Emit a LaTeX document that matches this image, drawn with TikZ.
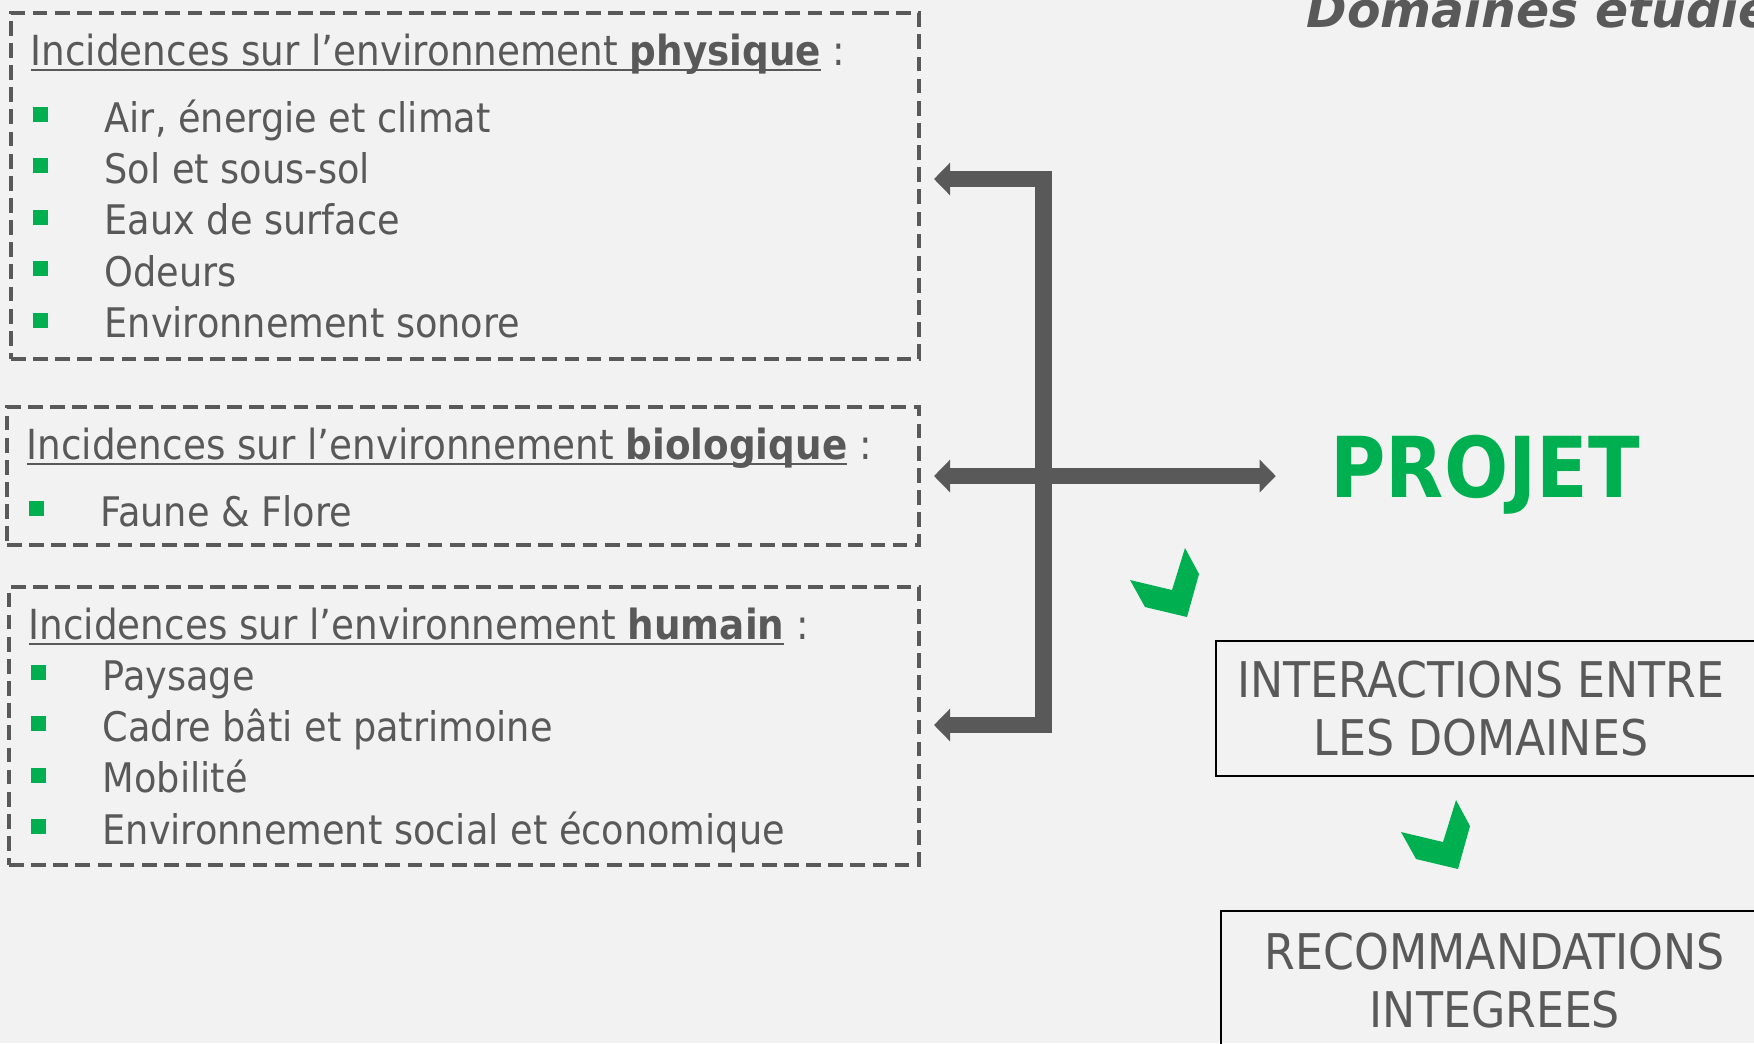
\documentclass[tikz,border=0pt]{standalone}
\usepackage{fontspec}
\setmainfont{DejaVu Sans Condensed}
\newfontfamily\headfont{DejaVu Sans}
\usetikzlibrary{arrows.meta,positioning}

\definecolor{textgray}{HTML}{595959}
\definecolor{bggray}{HTML}{F2F2F2}
\definecolor{okgreen}{HTML}{00B050}

% underline drawn at a fixed depth, through the descenders
\newcommand{\undl}[1]{\leavevmode\setbox0\hbox{#1}\rlap{\color{textgray}\rule[-1.8pt]{\wd0}{0.8pt}}\box0\relax}

\tikzset{
  domainbox/.style={draw=textgray, line width=1.1pt, dash pattern=on 4.2pt off 2.1pt, inner sep=0pt, outer sep=0pt},
  headtxt/.style={anchor=base west, inner sep=0pt, text=textgray, font=\fontsize{11.8}{14}\selectfont},
  itemtxt/.style={anchor=base west, inner sep=0pt, text=textgray, font=\fontsize{11.6}{14}\selectfont},
  bullet/.style={fill=okgreen, minimum size=1.5mm, inner sep=0pt},
  stepbox/.style={draw=black, line width=0.5pt, inner sep=0pt, outer sep=0pt},
  steptxt/.style={align=center, inner sep=0pt, text=textgray, font=\fontsize{14}{16.5}\selectfont},
  link/.style={draw=textgray, line width=4.8pt},
  tip/.tip={Triangle[length=4.6pt,width=9.1pt]},
  greentick/.pic={\fill[okgreen] (0,0) -- (42,10) -- (55,-32) -- (69,-6) -- (57,37) -- (15,27) -- cycle;}
}

\begin{document}
\begin{tikzpicture}[x=0.1mm,y=-0.1mm]
	\clip (0,0) rectangle (1754,1043);
	\fill[bggray] (0,0) rectangle (1754,1043);
	
	\node[anchor=base west, inner sep=0pt, text=textgray, font=\headfont\bfseries\itshape\fontsize{13.9}{16}\selectfont] (title) at (1306,27) {Domaines étudiés};
	
	% the three domains
	\node[domainbox, minimum width=90.8mm, minimum height=34.6mm] (phys) at (465,186) {};
	\node[domainbox, minimum width=91.2mm, minimum height=13.8mm] (bio) at (463,476) {};
	\node[domainbox, minimum width=91.0mm, minimum height=27.8mm] (hum) at (464,726) {};
	
	\node[headtxt] (physhead) at (30,65) {\undl{Incidences sur l’environnement \textbf{physique}} :};
	\foreach \txt [count=\i] in {{Air, énergie et climat}, Sol et sous-sol, Eaux de surface, Odeurs, Environnement sonore} {
		\node[itemtxt] (p\i) at (104,{132+51.4*(\i-1)}) {\txt};
		\node[bullet, left=5.5mm of p\i.base west, yshift=1.75mm] {};
	}
	
	\node[headtxt] (biohead) at (26,459) {\undl{Incidences sur l’environnement \textbf{biologique}} :};
	\node[itemtxt] (b1) at (100,526) {Faune \& Flore};
	\node[bullet, left=5.5mm of b1.base west, yshift=1.75mm] {};
	
	\node[headtxt] (humhead) at (28,639) {\undl{Incidences sur l’environnement \textbf{humain}} :};
	\foreach \txt [count=\i] in {Paysage, Cadre bâti et patrimoine, Mobilité, Environnement social et économique} {
		\node[itemtxt] (h\i) at (102,{690+51.4*(\i-1)}) {\txt};
		\node[bullet, left=5.5mm of h\i.base west, yshift=1.75mm] {};
	}
	
	% project side
	\node[anchor=base, inner sep=0pt, text=okgreen, font=\bfseries\fontsize{23.9}{28}\selectfont] (projet) at (1485,497) {PROJET};
	
	\node[stepbox, anchor=west, minimum width=58mm, minimum height=13.5mm] (inter) at (1216,708.5) {};
	\node[steptxt] (intertxt) at (1481,709) {INTERACTIONS ENTRE\\LES DOMAINES};
	
	\node[stepbox, anchor=north west, minimum width=58mm, minimum height=19mm] (reco) at (1221,911) {};
	\node[steptxt] (recotxt) at (1495,981) {RECOMMANDATIONS\\INTEGREES};
	
	\pic at (1130,580) {greentick};
	\pic at (1401,832) {greentick};
	
	% connectors
	\coordinate (jtop) at (1043.5,179);
	\coordinate (jbot) at (1043.5,725);
	\path[link, tip-tip, shorten <=1.5mm, shorten >=1.5mm] (phys.east |- jtop) -- (jtop) -- (jbot) -- (hum.east |- jbot);
	\path[link, tip-tip, shorten <=1.5mm, shorten >=5.4mm] (bio.east) -- (bio.east -| projet.west);
\end{tikzpicture}
\end{document}
